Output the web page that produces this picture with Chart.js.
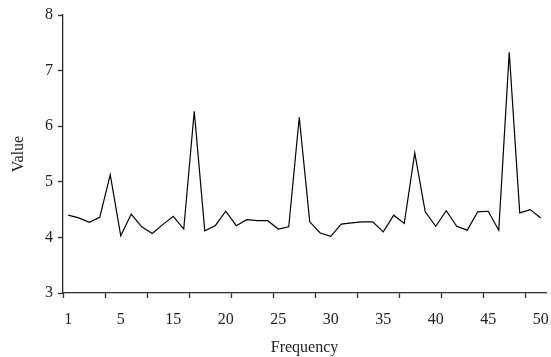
<!DOCTYPE html>
<html>
<head>
<meta charset="utf-8">
<script src="https://cdn.jsdelivr.net/npm/chart.js@4/dist/chart.umd.min.js"></script>
<style>
  html, body { margin: 0; padding: 0; background: #fff; }
  #wrap { width: 551px; height: 357px; }
</style>
</head>
<body>
<div id="wrap"><canvas id="chart"></canvas></div>
<script>
// values, one per sample
const values = [
    4.40, 4.35, 4.27, 4.36, 5.13, 4.03, 4.42, 4.19, 4.07, 4.23,
    4.38, 4.15, 6.27, 4.12, 4.21, 4.47, 4.21, 4.32, 4.30, 4.30,
    4.15, 4.19, 6.16, 4.28, 4.08, 4.02, 4.24, 4.26, 4.28, 4.28,
    4.10, 4.40, 4.25, 5.52, 4.46, 4.20, 4.48, 4.20, 4.13, 4.46,
    4.47, 4.13, 7.33, 4.44, 4.50, 4.35,
];

// x tick labels as printed on the original (sample positions 1, 6, 11, ...)
const xTickLabels = ["1", "5", "15", "20", "25", "30", "35", "40", "45", "50"];
const xLabelPositions = [1, 6, 11, 16, 21, 26, 31, 36, 41, 46];
// tick marks sit on category edges, every 4 samples
const xMarkPositions = [0.5, 4.5, 8.5, 12.5, 16.5, 20.5, 24.5, 28.5, 32.5, 36.5, 40.5, 44.5];

const yTicks = [3, 4, 5, 6, 7, 8];

const FONT = "'Liberation Serif', 'DejaVu Serif', serif";
const AXIS = "#2b2b2b";

const points = values.map((v, i) => ({ x: i + 1, y: v }));

new Chart(document.getElementById("chart"), {
    type: "line",
    data: {
        datasets: [
            {
                data: points,
                borderColor: "#000",
                borderWidth: 1.2,
                pointRadius: 0,
                tension: 0,
                fill: false,
            },
        ],
    },
    options: {
        responsive: true,
        maintainAspectRatio: false,
        animation: false,
        layout: { padding: { top: 15, right: 5, left: 0, bottom: 0 } },
        plugins: { legend: { display: false }, tooltip: { enabled: false } },
        scales: {
            x: {
                type: "linear",
                min: 0.5,
                max: 46.5,
                afterBuildTicks: (scale) => {
                    const all = [...xMarkPositions, ...xLabelPositions].sort((a, b) => a - b);
                    scale.ticks = all.map((v) => ({ value: v }));
                },
                afterFit: (scale) => {
                    scale.height = 64;
                    scale.paddingLeft = 0;
                    scale.paddingRight = 0;
                },
                ticks: {
                    autoSkip: false,
                    maxRotation: 0,
                    padding: 12,
                    color: "#222",
                    font: { family: FONT, size: 16 },
                    callback: (v) => {
                        const k = xLabelPositions.indexOf(v);
                        return k >= 0 ? xTickLabels[k] : "";
                    },
                },
                grid: {
                    drawOnChartArea: false,
                    tickLength: 5,
                    tickWidth: 1.3,
                    tickColor: (ctx) =>
                        ctx.tick && xMarkPositions.includes(ctx.tick.value) ? AXIS : "rgba(0,0,0,0)",
                },
                border: { display: true, color: AXIS, width: 1.3 },
                title: {
                    display: true,
                    text: "Frequency",
                    color: "#222",
                    font: { family: FONT, size: 16 },
                    padding: { top: 0, bottom: 0 },
                },
            },
            y: {
                min: 3,
                max: 8,
                afterBuildTicks: (scale) => {
                    scale.ticks = yTicks.map((v) => ({ value: v }));
                },
                afterFit: (scale) => {
                    scale.width = 63;
                    scale.paddingTop = 0;
                    scale.paddingBottom = 0;
                },
                ticks: {
                    padding: 5,
                    color: "#222",
                    font: { family: FONT, size: 16 },
                },
                grid: {
                    drawOnChartArea: false,
                    tickLength: 5,
                    tickWidth: 1.3,
                    tickColor: AXIS,
                },
                border: { display: true, color: AXIS, width: 1.3 },
                title: {
                    display: true,
                    text: "Value",
                    color: "#222",
                    font: { family: FONT, size: 16 },
                    padding: { top: 9, bottom: 0 },
                },
            },
        },
    },
});
</script>
</body>
</html>
